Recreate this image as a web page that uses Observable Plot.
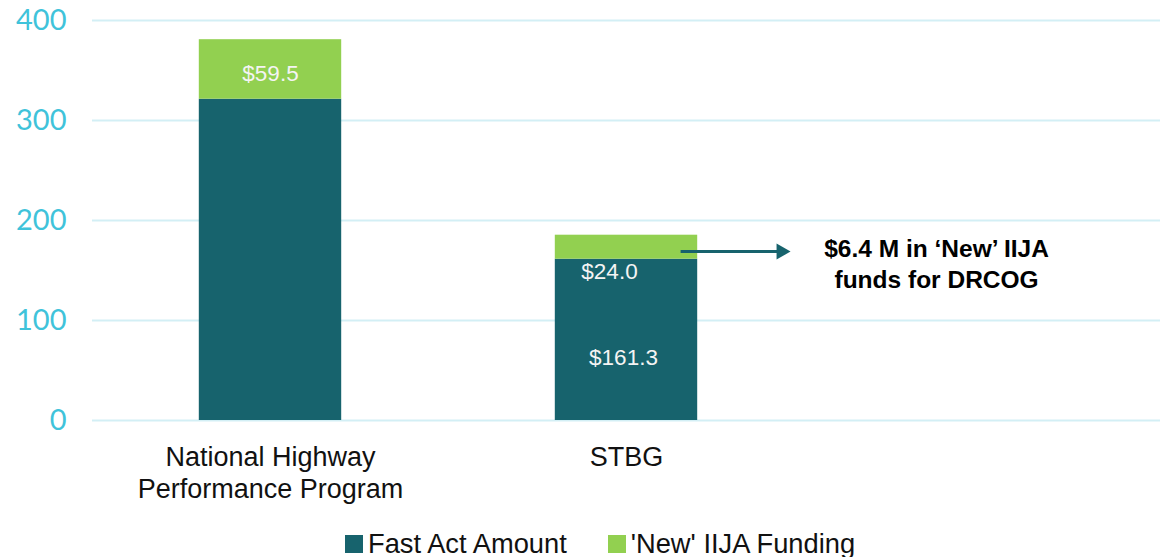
<!DOCTYPE html>
<html><head><meta charset="utf-8">
<script src="https://cdn.jsdelivr.net/npm/d3@7"></script>
<script src="https://cdn.jsdelivr.net/npm/@observablehq/plot@0.6"></script>
<style>
html,body{margin:0;padding:0;overflow:hidden;background:#fff;}
#legend{display:flex;align-items:center;height:30px;margin-top:9px;padding-left:345px;font-family:"Liberation Sans",Arial,sans-serif;font-size:27.3px;line-height:30px;color:#111;white-space:nowrap;}
.sw{width:18px;height:18px;display:inline-block;margin-right:5px;}
.item{display:flex;align-items:center;margin-right:41px;}
g[aria-label="y-axis tick label"]{font-family:Lato,"Liberation Sans",sans-serif;}
</style></head><body>
<div id="chart"></div><div id="legend"></div>
<script>
const categories = ["National Highway\nPerformance Program", "STBG"];
const seriesNames = ["Fast Act Amount", "'New' IIJA Funding"];
const fastActAmount = [321.3, 161.3];
const newIijaFunding = [59.5, 24.0];
const yTicks = [0, 100, 200, 300, 400];
const fastActLabels = [null, "$161.3"];
const iijaLabels = ["$59.5", "$24.0"];
const calloutText = "$6.4 M in \u2018New\u2019 IIJA\nfunds for DRCOG";
const colors = ["#17636d", "#92d050"];

const rows = [];
categories.forEach((c, i) => {
  const a = fastActAmount[i], b = newIijaFunding[i];
  rows.push({i, cat: c, series: seriesNames[0], y1: 0, y2: a, label: fastActLabels[i]});
  rows.push({i, cat: c, series: seriesNames[1], y1: a, y2: a + b, label: iijaLabels[i]});
});
const mid = d => (d.y1 + d.y2) / 2;
const labelFont = {fill: "#f4f4f4", fontSize: 22.5, fontFamily: "'Liberation Sans', Arial, sans-serif"};

const chart = Plot.plot({
  width: 1161,
  height: 520,
  marginLeft: 92,
  marginRight: 1,
  marginTop: 20,
  marginBottom: 100,
  style: {fontFamily: "'Liberation Sans', Arial, sans-serif", background: "#fff"},
  x: {type: "linear", domain: [0, 3], axis: null},
  y: {domain: [0, 400], axis: null},
  color: {domain: seriesNames, range: colors},
  marks: [
    Plot.gridY(yTicks, {stroke: "#d3eff5", strokeOpacity: 1, strokeWidth: 2}),
    Plot.axisY(yTicks, {tickSize: 0, tickPadding: 26, fontSize: 29, fill: "#3fc3da", label: null}),
    Plot.axisX([0.5, 1.5], {tickSize: 0, tickPadding: 23, fontSize: 27, fill: "#111", label: null,
      lineHeight: 1.19, tickFormat: d => categories[Math.floor(d)]}),
    Plot.rect(rows, {x1: d => d.i + 0.3, x2: d => d.i + 0.7, y1: "y1", y2: "y2", fill: "series"}),
    // IIJA labels
    Plot.text(rows.filter(d => d.series === seriesNames[1] && d.i === 0), {x: d => d.i + 0.5, y: mid, text: "label", dy: 4, ...labelFont}),
    Plot.text(rows.filter(d => d.series === seriesNames[1] && d.i === 1), {x: d => d.i + 0.5, y: "y1", text: "label", dy: 13, dx: -17, ...labelFont}),
    // Fast act labels
    Plot.text(rows.filter(d => d.series === seriesNames[0] && d.label), {x: d => d.i + 0.5, y: mid, text: "label", dy: 18, dx: -3, ...labelFont}),
    // callout arrow
    Plot.link([0], {x1: 1.652, x2: 1.925, y1: 169, y2: 169, stroke: "#17636d", strokeWidth: 3}),
    Plot.dot([0], {x: 1.9346, y: 169, symbol: "triangle", r: 6, fill: "#17636d", rotate: 90}),
    Plot.text([calloutText], {x: 2.371, y: 158, text: d => d, fontWeight: "bold", fontSize: 24.5,
      lineHeight: 1.27, fill: "#000", letterSpacing: "-0.2px"})
  ]
});
document.getElementById("chart").appendChild(chart);

const legend = document.getElementById("legend");
seriesNames.forEach((name, k) => {
  const item = document.createElement("div");
  item.className = "item";
  const sw = document.createElement("span");
  sw.className = "sw";
  sw.style.background = colors[k];
  const t = document.createElement("span");
  t.textContent = name;
  item.appendChild(sw); item.appendChild(t);
  legend.appendChild(item);
});
</script>
</body></html>
